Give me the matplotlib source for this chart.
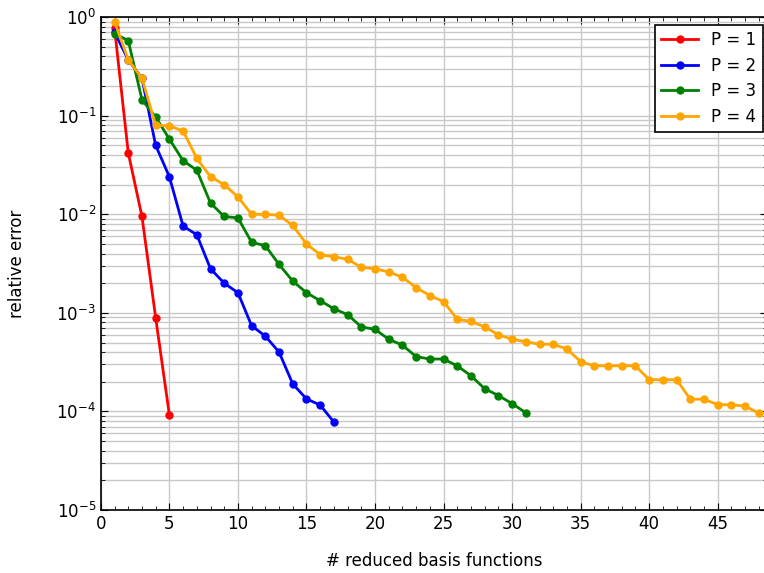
import numpy as np
import matplotlib
matplotlib.use("Agg")
import matplotlib.pyplot as plt
from matplotlib.ticker import LogLocator, NullFormatter, MultipleLocator

plt.rcParams['font.family'] = ['DejaVu Sans']

# data
x1 = [1, 2, 3, 4, 5]
p1 = [0.77, 0.042, 0.0095, 0.00089, 9.2e-5]

x2 = list(range(1, 18))
p2 = [0.70, 0.37, 0.24, 0.050, 0.024, 0.0076, 0.0062, 0.0028, 0.0020, 0.0016,
      0.00074, 0.00058, 0.00040, 0.00019, 0.000134, 0.000116, 7.8e-5]

x3 = list(range(1, 32))
p3 = [0.68, 0.58, 0.145, 0.097, 0.058, 0.035, 0.028, 0.013, 0.0095, 0.0092,
      0.0052, 0.0048, 0.0031, 0.0021, 0.0016, 0.00133, 0.0011, 0.00096, 0.00072,
      0.00068, 0.00054, 0.00047, 0.00036, 0.00034, 0.00034, 0.00029, 0.00023,
      0.00017, 0.000145, 0.00012, 9.7e-5]

x4 = list(range(1, 49))
p4 = [0.90, 0.37, 0.24, 0.080, 0.079, 0.070, 0.037, 0.024, 0.020, 0.015,
      0.0100, 0.0100, 0.0098, 0.0077, 0.0050, 0.0039, 0.0037, 0.0035, 0.0029,
      0.0028, 0.0026, 0.0023, 0.0018, 0.0015, 0.0013, 0.00086, 0.00082, 0.00072,
      0.00060, 0.00054, 0.00051, 0.00048, 0.00048, 0.00043, 0.00032, 0.00029,
      0.00029, 0.00029, 0.00029, 0.00021, 0.00021, 0.00021, 0.000133, 0.000133,
      0.000117, 0.000117, 0.000113, 9.6e-5]

series = [(x1, p1, 'red', 'P = 1'), (x2, p2, 'blue', 'P = 2'),
          (x3, p3, 'green', 'P = 3'), (x4, p4, 'orange', 'P = 4')]

fig = plt.figure(figsize=(7.64, 5.73), dpi=100)
ax = fig.add_axes([0.132, 0.110, 0.872, 0.860])

for xs, ys, c, lab in series:
    ax.plot(xs, ys, color=c, lw=2, marker='o', ms=5, label=lab)

ax.set_yscale('log')
ax.set_ylim(1e-5, 1)
ax.set_xlim(0, 48.6)
ax.xaxis.set_major_locator(MultipleLocator(5))
ax.xaxis.set_minor_locator(MultipleLocator(1))
ax.yaxis.set_major_locator(LogLocator(base=10, numticks=10))
ax.yaxis.set_minor_locator(LogLocator(base=10, subs=np.arange(2, 10), numticks=10))
ax.yaxis.set_minor_formatter(NullFormatter())

ax.grid(True, which='major', color='#c8c8c8', lw=1)
ax.grid(True, which='minor', axis='y', color='#c8c8c8', lw=1)
ax.set_axisbelow(True)
ax.tick_params(which='both', direction='in', top=True, right=True, labelsize=12)
ax.tick_params(which='major', length=5)
ax.tick_params(which='minor', length=3)
for s in ax.spines.values():
    s.set_linewidth(1.2)

ax.set_xlabel('# reduced basis functions', fontsize=12, labelpad=14)
ax.set_ylabel('relative error', fontsize=12, labelpad=22)

leg = ax.legend(loc='upper right', fontsize=12, fancybox=False, edgecolor='black',
                framealpha=1, bbox_to_anchor=(0.994, 0.985), borderaxespad=0,
                handlelength=2.2, labelspacing=0.45)
leg.get_frame().set_linewidth(1.2)

fig.savefig('out.png', dpi=100)
